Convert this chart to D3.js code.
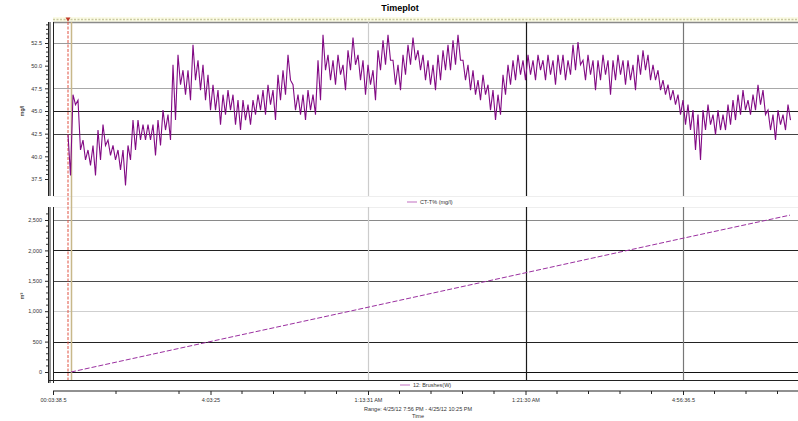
<!DOCTYPE html>
<html><head><meta charset="utf-8">
<script src="https://cdn.jsdelivr.net/npm/d3@7"></script>
<style>
html,body{margin:0;padding:0;background:#fff;}
text{font-family:"Liberation Sans",Arial,sans-serif;}
</style></head>
<body>
<svg id="chart" width="798" height="421"></svg>
<script>
// ---------- DATA ----------
const title = "Timeplot";
const topSeriesName = "CT-T% (mg/l)";
const bottomSeriesName = "12: Brushes(W)";
const topAxisLabel = "mg/l";
const bottomAxisLabel = "m³";
const rangeText = "Range: 4/25/12 7:56 PM - 4/25/12 10:25 PM";
const xAxisTitle = "Time";

// time in minutes from chart start
const xLabelTimes = [0, 31.5, 63, 94.5, 126];
const xLabels = ["00:03:38.5", "4:03:25", "1:13:31 AM", "1:21:30 AM", "4:56:36.5"];
const xMinorTimes = [12.6, 25.2, 37.8, 44.1, 50.4, 56.7, 69.3, 75.6, 81.9, 88.2, 100.8, 107.1, 113.4, 119.7, 132.3, 138.6, 144.9];

const topTicks = [37.5, 40.0, 42.5, 45.0, 47.5, 50.0, 52.5];
const bottomTicks = [0, 500, 1000, 1500, 2000, 2500];

// top series: sampled every minute starting at minute 3; local high / low of each sample
const topStart = 3;
const topHigh = [42.4,46.8,46.2,41.8,40.7,41.2,42.9,43.5,41.8,41.2,40.7,40.7,41.2,44.0,44.0,43.5,43.5,43.5,44.0,45.1,
44.6,50.1,51.2,49.5,49.5,52.3,50.6,50.1,49.0,47.9,47.3,46.8,47.3,46.8,46.2,46.2,45.7,46.2,46.8,47.3,
47.9,47.3,49.0,49.5,51.2,47.9,46.8,46.8,47.3,46.8,50.6,53.4,51.2,50.6,51.2,50.1,51.7,53.1,51.2,50.6,
50.1,49.5,51.7,52.8,53.4,50.6,50.1,51.2,52.3,53.1,51.7,51.2,50.6,50.1,51.2,51.7,52.3,52.8,53.4,50.6,
50.1,49.5,48.4,49.0,47.9,47.3,46.8,49.0,50.1,50.6,51.2,50.6,51.2,50.6,51.2,50.6,51.2,50.6,51.2,51.2,
50.6,52.3,52.6,50.6,51.2,50.6,50.6,51.2,50.6,50.6,51.2,50.6,50.6,50.1,51.2,51.7,51.2,50.1,49.5,48.4,
47.9,47.3,46.8,46.2,45.7,45.1,44.6,45.1,45.7,44.6,45.1,44.6,45.7,46.2,46.8,47.3,46.2,46.8,47.9,47.3,
45.1,44.6,45.1,44.6,45.7];
const topLow = [37.9,45.7,40.7,39.6,39.0,37.9,39.6,41.2,40.1,39.6,38.5,36.8,39.6,40.7,41.8,41.8,41.8,40.1,41.2,42.9,
41.8,44.0,47.9,46.8,46.2,48.4,47.3,46.2,45.1,45.1,43.5,44.6,45.1,43.5,42.9,44.0,43.5,44.6,45.1,44.6,
45.7,44.0,46.2,46.8,48.4,45.1,44.6,44.0,45.1,44.6,46.2,49.5,48.4,47.9,49.0,47.3,49.5,50.1,48.4,46.8,
47.9,46.2,49.5,50.1,50.6,47.9,47.3,49.0,50.1,50.6,49.5,48.4,47.9,47.3,48.4,49.5,49.5,50.1,50.6,48.4,
47.3,46.8,46.2,46.8,45.1,44.0,44.6,46.8,47.9,48.4,49.0,48.4,49.0,48.4,49.5,48.4,49.0,47.9,49.0,48.4,
49.0,49.5,50.1,48.4,49.0,47.3,48.4,49.0,46.8,48.4,49.0,47.9,48.4,47.3,49.0,49.5,48.4,48.4,47.3,46.8,
46.2,45.7,44.6,43.5,42.9,40.7,39.6,42.9,43.5,42.4,42.9,42.9,43.5,44.0,44.6,45.1,44.6,45.1,45.7,44.6,
42.9,41.8,43.5,42.9,44.0];

// bottom series: cumulative value
const bottomTimes = [3.6, 31.6, 63, 94.4, 126, 147.4];
const bottomValues = [0, 503, 1065, 1630, 2200, 2580];

// vertical marker lines (time)
const redMarkerTime = 3.0;
const tanMarkerTime = 3.6;
const vGridTimes = [63, 94.5, 126];

// ---------- STYLE ----------
const vGridColors = ["#cccccc", "#1a1a1a", "#777777"];
const topGridColors = {52.5:"#9a9a9a", 47.5:"#a8a8a8", 45.0:"#222222", 42.5:"#444444"};
const bottomGridColors = {2500:"#8a8a8a", 2000:"#222222", 1500:"#4a4a4a", 1000:"#cfcfcf", 500:"#222222", 0:"#111111"};

const svg = d3.select("#chart");
const PL = 53, PR = 798;
const x = d3.scaleLinear().domain([0, 149]).range([PL, PR]);
const yT = d3.scaleLinear().domain([37.5, 52.5]).range([179, 43]);
const yB = d3.scaleLinear().domain([0, 2500]).range([372, 220]);
const topY0 = 22, topY1 = 196, botY0 = 207, botY1 = 380;

// title
svg.append("text").attr("x", 400).attr("y", 11).attr("text-anchor","middle")
  .attr("font-size", 9).attr("font-weight","bold").text(title);

// yellow marker strip
svg.append("rect").attr("x", PL).attr("y", 17).attr("width", PR-PL).attr("height", 5).attr("fill","#fbfbe6");
svg.append("line").attr("x1",PL).attr("x2",PR).attr("y1",19.5).attr("y2",19.5)
  .attr("stroke","#c9c9a0").attr("stroke-width",1.5).attr("stroke-dasharray","2,1.5");
svg.append("path").attr("d", d3.symbol(d3.symbolTriangle, 10)())
  .attr("transform",`translate(${x(redMarkerTime)},19) rotate(180)`).attr("fill","#c0392b");

// grid lines helper
function hgrid(scale, ticks, colors){
  ticks.forEach(t=>{
    if(colors[t]!==undefined){
      svg.append("line").attr("x1",PL).attr("x2",PR).attr("y1",Math.round(scale(t))+0.5).attr("y2",Math.round(scale(t))+0.5)
        .attr("stroke",colors[t]).attr("stroke-width",1.2);
    }
  });
}
hgrid(yT, topTicks, topGridColors);
hgrid(yB, bottomTicks, bottomGridColors);

// borders of panels
svg.append("line").attr("x1",PL).attr("x2",PR).attr("y1",topY0+0.5).attr("y2",topY0+0.5).attr("stroke","#8a8a8a").attr("stroke-width",1.5);
svg.append("line").attr("x1",PL).attr("x2",PR).attr("y1",topY1+0.5).attr("y2",topY1+0.5).attr("stroke","#eeeeee");
svg.append("line").attr("x1",PL).attr("x2",PR).attr("y1",botY0+0.5).attr("y2",botY0+0.5).attr("stroke","#eeeeee");

// vertical grid lines
vGridTimes.forEach((t,i)=>{
  [[topY0,topY1],[botY0,botY1]].forEach(([a,b])=>{
    svg.append("line").attr("x1",Math.round(x(t))+0.5).attr("x2",Math.round(x(t))+0.5).attr("y1",a).attr("y2",b)
      .attr("stroke",vGridColors[i]).attr("stroke-width",1.2);
  });
});

// markers
svg.append("line").attr("x1",x(tanMarkerTime)+0.5).attr("x2",x(tanMarkerTime)+0.5).attr("y1",topY0).attr("y2",botY1)
  .attr("stroke","#c8b88a").attr("stroke-width",1.5);
svg.append("line").attr("x1",x(redMarkerTime)).attr("x2",x(redMarkerTime)).attr("y1",topY0).attr("y2",botY1)
  .attr("stroke","#e05040").attr("stroke-width",1).attr("stroke-dasharray","3,1.5");

// top series
const topPts = [];
topHigh.forEach((h,i)=>{
  topPts.push([topStart+i, h]);
  topPts.push([topStart+i+0.5, topLow[i]]);
});
svg.append("path").datum(topPts)
  .attr("d", d3.line().x(d=>x(d[0])).y(d=>yT(d[1])))
  .attr("fill","none").attr("stroke","#820a84").attr("stroke-width",1.1);

// bottom series
svg.append("path").datum(bottomTimes.map((t,i)=>[t,bottomValues[i]]))
  .attr("d", d3.line().x(d=>x(d[0])).y(d=>yB(d[1])))
  .attr("fill","none").attr("stroke","#9b30a0").attr("stroke-width",1).attr("stroke-dasharray","5,2");

// y axes frames (double lines)
[[topY0,topY1],[botY0,botY1+3]].forEach(([a,b])=>{
  [48,49.5,53].forEach(xx=>{
    svg.append("line").attr("x1",xx+0.5).attr("x2",xx+0.5).attr("y1",a).attr("y2",b).attr("stroke","#222").attr("stroke-width",1);
  });
});
svg.append("line").attr("x1",48).attr("x2",PR).attr("y1",botY1+0.5).attr("y2",botY1+0.5).attr("stroke","#222").attr("stroke-width",1.2);

// y axes
const topAxis = d3.axisLeft(yT).tickValues(topTicks).tickFormat(d3.format(".1f")).tickSize(3).tickPadding(3);
const gT = svg.append("g").attr("transform","translate(48,0)").call(topAxis);
const bottomAxis = d3.axisLeft(yB).tickValues(bottomTicks).tickFormat(d=>d3.format(",")(d)).tickSize(3).tickPadding(3);
const gB = svg.append("g").attr("transform","translate(48,0)").call(bottomAxis);
[gT,gB].forEach(g=>{
  g.select(".domain").remove();
  g.selectAll("text").attr("font-size",5.5).attr("fill","#333");
  g.selectAll("line").attr("stroke","#222");
});
// minor ticks
const topMinor = d3.range(37.5, 54.8, 0.5).filter(v=>!topTicks.some(t=>Math.abs(t-v)<1e-6));
svg.append("g").selectAll("line").data(topMinor).join("line")
  .attr("x1",46).attr("x2",48).attr("y1",d=>yT(d)).attr("y2",d=>yT(d)).attr("stroke","#333");
const botMinor = d3.range(0, 2700, 100).filter(v=>v%500!==0);
svg.append("g").selectAll("line").data(botMinor).join("line")
  .attr("x1",46).attr("x2",48).attr("y1",d=>yB(d)).attr("y2",d=>yB(d)).attr("stroke","#333");

// axis titles
svg.append("text").attr("transform",`translate(24,${yT(45)}) rotate(-90)`).attr("text-anchor","middle")
  .attr("font-size",5.5).text(topAxisLabel);
svg.append("text").attr("transform",`translate(24,${yB(1250)}) rotate(-90)`).attr("text-anchor","middle")
  .attr("font-size",5.5).text(bottomAxisLabel);

// x axis
const xAxisY = 391;
const gx = svg.append("g").attr("transform",`translate(0,${xAxisY})`)
  .call(d3.axisBottom(x).tickValues(xLabelTimes).tickFormat((d,i)=>xLabels[i]).tickSize(4).tickPadding(3));
gx.select(".domain").attr("stroke","#222").attr("d",`M${PL},0H${PR}`);
gx.selectAll("line").attr("stroke","#222");
gx.selectAll("text").attr("font-size",5.5).attr("fill","#333");
svg.append("g").selectAll("line").data(xMinorTimes).join("line")
  .attr("x1",d=>x(d)).attr("x2",d=>x(d)).attr("y1",xAxisY).attr("y2",xAxisY+3).attr("stroke","#222");

// legends
function legend(lx, ly, label){
  svg.append("line").attr("x1",lx).attr("x2",lx+10).attr("y1",ly).attr("y2",ly).attr("stroke","#cc88cc").attr("stroke-width",1.2);
  svg.append("text").attr("x",lx+13).attr("y",ly+2).attr("font-size",5.5).attr("fill","#333").text(label);
}
legend(407, 202, topSeriesName);
legend(400, 385, bottomSeriesName);

// range and x title
svg.append("text").attr("x",418).attr("y",411).attr("text-anchor","middle").attr("font-size",5.5).attr("fill","#333").text(rangeText);
svg.append("text").attr("x",418).attr("y",418).attr("text-anchor","middle").attr("font-size",5.5).attr("fill","#333").text(xAxisTitle);
</script>
</body></html>
